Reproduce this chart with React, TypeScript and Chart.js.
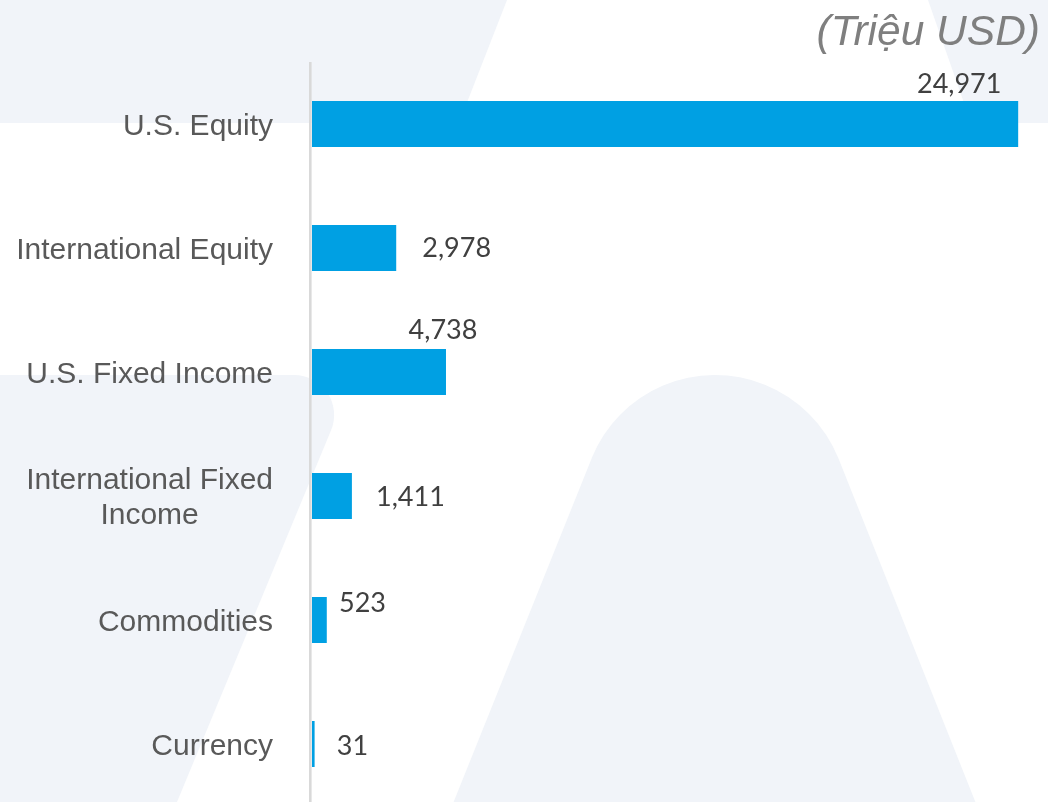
import React, { useEffect, useRef } from "react";
import { Chart, registerables } from "chart.js";

Chart.register(...registerables);

// ---- data ----
const categories = [
  "U.S. Equity",
  "International Equity",
  "U.S. Fixed Income",
  "International Fixed Income",
  "Commodities",
  "Currency",
];
const categoryLines = [
  ["U.S. Equity"],
  ["International Equity"],
  ["U.S. Fixed Income"],
  ["International Fixed", "Income"],
  ["Commodities"],
  ["Currency"],
];
const values = [24971, 2978, 4738, 1411, 523, 31];
const valueLabels = ["24,971", "2,978", "4,738", "1,411", "523", "31"];
const axisMax = 25000;
const unitTitle = "(Triệu USD)";

// label offsets (centre of value label relative to bar end / bar centre)
const labelDx = [-59, 60.5, -3, 58.5, 35.7, 37.8];
const labelDy = [-41, -1, -43.5, 0, -17.7, 1];

const BAR_COLOR = "#00A0E3";
const WATERMARK = "#F1F4F9";
const CAT_FONT = '30px "Liberation Sans", Arial, sans-serif';
const VAL_FONT = '27px Lato, "Open Sans", sans-serif';
const TITLE_FONT = 'italic 42.5px "Liberation Sans", Arial, sans-serif';

export default function App() {
  const ref = useRef<HTMLCanvasElement>(null);

  useEffect(() => {
    const canvas = ref.current;
    if (!canvas) return;

    const bgPlugin = {
      id: "bgWatermark",
      beforeDraw(chart: any) {
        const ctx: CanvasRenderingContext2D = chart.ctx;
        const W = chart.width;
        const H = chart.height;
        ctx.save();
        ctx.fillStyle = "#ffffff";
        ctx.fillRect(0, 0, W, H);
        ctx.fillStyle = WATERMARK;
        // top-left band
        ctx.beginPath();
        ctx.moveTo(0, 0);
        ctx.lineTo(507, 0);
        ctx.lineTo(459, 123);
        ctx.lineTo(0, 123);
        ctx.closePath();
        ctx.fill();
        // top-right band
        ctx.beginPath();
        ctx.moveTo(928, 0);
        ctx.lineTo(W, 0);
        ctx.lineTo(W, 123);
        ctx.lineTo(971, 123);
        ctx.closePath();
        ctx.fill();
        // lower-left leg
        ctx.beginPath();
        ctx.moveTo(0, 375);
        ctx.arcTo(354, 375, 177, 802, 40);
        ctx.lineTo(177, 802);
        ctx.lineTo(0, H);
        ctx.closePath();
        ctx.fill();
        // central arch
        const cx = 715, cy = 508, r = 133;
        const a = Math.atan2(0.375, 0.927);
        ctx.beginPath();
        ctx.moveTo(452, H);
        ctx.lineTo(cx - r * 0.927, cy - r * 0.375);
        ctx.arc(cx, cy, r, Math.PI + a, 2 * Math.PI - a, false);
        ctx.lineTo(977, H);
        ctx.closePath();
        ctx.fill();
        ctx.restore();
      },
    };

    const overlayPlugin = {
      id: "overlay",
      afterDatasetsDraw(chart: any) {
        const ctx: CanvasRenderingContext2D = chart.ctx;
        const area = chart.chartArea;
        const yScale = chart.scales.y;
        const meta = chart.getDatasetMeta(0);
        ctx.save();

        // vertical axis line
        ctx.fillStyle = "#D9D9D9";
        ctx.fillRect(area.left - 3, area.top, 2.6, chart.height - area.top);

        // category labels
        ctx.font = CAT_FONT;
        ctx.fillStyle = "#595959";
        ctx.textAlign = "center";
        ctx.textBaseline = "alphabetic";
        const rightEdge = area.left - 39;
        const lineH = 35.7;
        categoryLines.forEach((lines, i) => {
          const yc = yScale.getPixelForValue(i);
          const maxW = Math.max(...lines.map((l) => ctx.measureText(l).width));
          const xc = rightEdge - maxW / 2;
          const n = lines.length;
          lines.forEach((l, j) => {
            const base = yc + 10.5 + (j - (n - 1) / 2) * lineH;
            ctx.fillText(l, xc, base);
          });
        });

        // value labels
        ctx.font = VAL_FONT;
        ctx.fillStyle = "#404040";
        ctx.textAlign = "center";
        const digitH = ctx.measureText("0").actualBoundingBoxAscent;
        meta.data.forEach((bar: any, i: number) => {
          const xEnd = bar.x;
          const yc = bar.y;
          ctx.fillText(valueLabels[i], xEnd + labelDx[i], yc + labelDy[i] + digitH / 2);
        });

        // unit title
        ctx.font = TITLE_FONT;
        ctx.fillStyle = "#7F7F7F";
        ctx.textAlign = "right";
        ctx.fillText(unitTitle, 1040, 45);

        ctx.restore();
      },
    };

    const chart = new Chart(canvas, {
      type: "bar",
      data: {
        labels: categories,
        datasets: [
          {
            data: values,
            backgroundColor: BAR_COLOR,
            borderWidth: 0,
            barPercentage: 0.371,
            categoryPercentage: 1,
            minBarLength: 2.6,
          },
        ],
      },
      options: {
        indexAxis: "y",
        responsive: false,
        animation: false,
        devicePixelRatio: 1,
        layout: { padding: { left: 312, right: 29, top: 62, bottom: 0 } },
        scales: {
          x: { display: false, min: 0, max: axisMax },
          y: { display: false, offset: true },
        },
        plugins: {
          legend: { display: false },
          tooltip: { enabled: false },
          title: { display: false },
        },
      },
      plugins: [bgPlugin, overlayPlugin],
    } as any);

    return () => chart.destroy();
  }, []);

  return (
    <div
      style={{
        position: "fixed",
        left: 0,
        top: 0,
        width: 1048,
        height: 802,
        overflow: "hidden",
        background: "#ffffff",
      }}
    >
      <canvas ref={ref} width={1048} height={806} style={{ display: "block" }} />
    </div>
  );
}
